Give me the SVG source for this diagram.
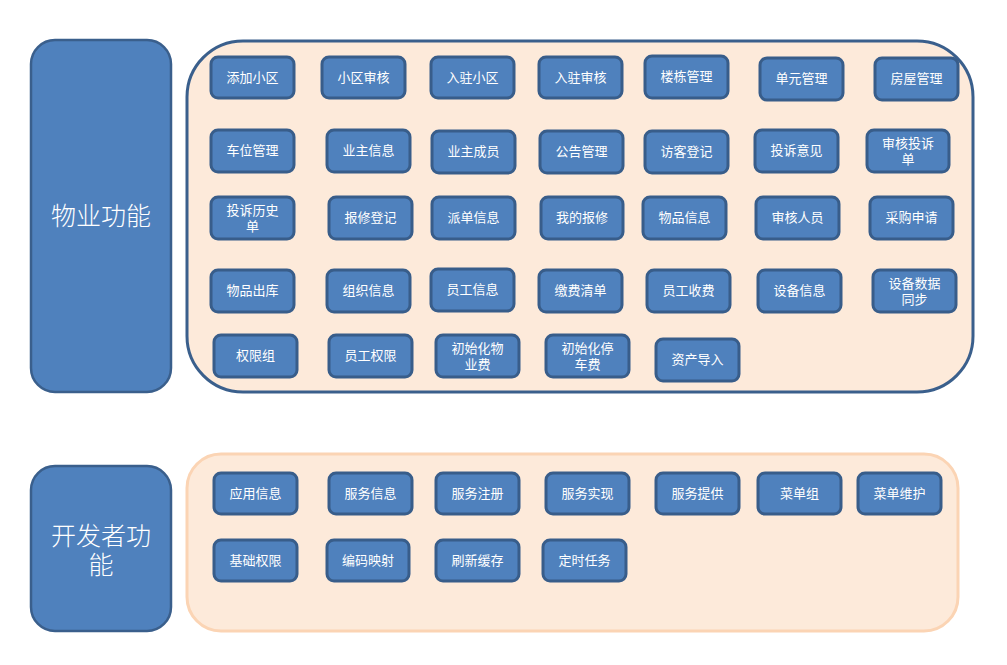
<svg xmlns="http://www.w3.org/2000/svg" width="1007" height="665" viewBox="0 0 1007 665">
<style>
.bg{fill:#ffffff}
.cont1{fill:#FDEADA;stroke:#3A5F8C;stroke-width:3}
.cont2{fill:#FDEADA;stroke:#FBD4B4;stroke-width:3}
.side{fill:#4F81BD;stroke:#3A5F8C;stroke-width:2.5}
.n rect{fill:#4F81BD;stroke:#385D8A;stroke-width:3}
.n text{fill:#ffffff;font-family:"Noto Sans CJK SC","Noto Sans",sans-serif;font-size:13px;text-anchor:middle;dominant-baseline:central}
.big{fill:#ffffff;font-family:"Noto Sans CJK SC","Noto Sans",sans-serif;font-weight:300;font-size:25px;text-anchor:middle;dominant-baseline:central}
</style>
<rect class="bg" x="0" y="0" width="1007" height="665"/>
<g id="group-property">
<rect class="side" x="31" y="40" width="140" height="352" rx="24"/>
<text class="big" x="101" y="214">物业功能</text>
</g>
<g id="container-property"><rect class="cont1" x="187" y="41" width="786" height="351" rx="56"/></g>
<g id="group-dev">
<rect class="side" x="31" y="466" width="140" height="165" rx="24"/>
<text class="big" x="101" y="534">开发者功</text>
<text class="big" x="101" y="563">能</text>
</g>
<g id="container-dev"><rect class="cont2" x="187" y="454" width="771" height="177" rx="34"/></g>
<g id="connectors"></g>

<g id="n1" class="n"><rect x="211" y="57" width="83" height="41" rx="7"/><text x="252.5" y="76.5">添加小区</text></g>
<g id="n2" class="n"><rect x="322" y="57" width="83" height="41" rx="7"/><text x="363.5" y="76.5">小区审核</text></g>
<g id="n3" class="n"><rect x="431" y="57" width="83" height="41" rx="7"/><text x="472.5" y="76.5">入驻小区</text></g>
<g id="n4" class="n"><rect x="539" y="57" width="83" height="41" rx="7"/><text x="580.5" y="76.5">入驻审核</text></g>
<g id="n5" class="n"><rect x="645" y="56" width="83" height="42" rx="7"/><text x="686.5" y="75.5">楼栋管理</text></g>
<g id="n6" class="n"><rect x="760" y="58" width="83" height="42" rx="7"/><text x="801.5" y="77.5">单元管理</text></g>
<g id="n7" class="n"><rect x="875" y="58" width="83" height="42" rx="7"/><text x="916.5" y="77.5">房屋管理</text></g>

<g id="n8" class="n"><rect x="211" y="130" width="83" height="42" rx="7"/><text x="252.5" y="149.5">车位管理</text></g>
<g id="n9" class="n"><rect x="327" y="130" width="83" height="42" rx="7"/><text x="368.5" y="149.5">业主信息</text></g>
<g id="n10" class="n"><rect x="432" y="131" width="83" height="42" rx="7"/><text x="473.5" y="150.5">业主成员</text></g>
<g id="n11" class="n"><rect x="540" y="131" width="83" height="42" rx="7"/><text x="581.5" y="150.5">公告管理</text></g>
<g id="n12" class="n"><rect x="645" y="131" width="83" height="42" rx="7"/><text x="686.5" y="150.5">访客登记</text></g>
<g id="n13" class="n"><rect x="755" y="130" width="83" height="42" rx="7"/><text x="796.5" y="149.5">投诉意见</text></g>
<g id="n14" class="n"><rect x="867" y="130" width="82" height="42" rx="7"/><text x="908" y="142.5">审核投诉</text><text x="908" y="158">单</text></g>

<g id="n15" class="n"><rect x="211" y="197" width="83" height="42" rx="7"/><text x="252.5" y="209.5">投诉历史</text><text x="252.5" y="225">单</text></g>
<g id="n16" class="n"><rect x="329" y="197" width="83" height="42" rx="7"/><text x="370.5" y="216.5">报修登记</text></g>
<g id="n17" class="n"><rect x="432" y="197" width="83" height="42" rx="7"/><text x="473.5" y="216.5">派单信息</text></g>
<g id="n18" class="n"><rect x="541" y="197" width="82" height="42" rx="7"/><text x="582" y="216.5">我的报修</text></g>
<g id="n19" class="n"><rect x="643" y="197" width="83" height="42" rx="7"/><text x="684.5" y="216.5">物品信息</text></g>
<g id="n20" class="n"><rect x="756" y="197" width="83" height="42" rx="7"/><text x="797.5" y="216.5">审核人员</text></g>
<g id="n21" class="n"><rect x="870" y="197" width="83" height="42" rx="7"/><text x="911.5" y="216.5">采购申请</text></g>

<g id="n22" class="n"><rect x="211" y="270" width="83" height="42" rx="7"/><text x="252.5" y="289.5">物品出库</text></g>
<g id="n23" class="n"><rect x="327" y="270" width="83" height="42" rx="7"/><text x="368.5" y="289.5">组织信息</text></g>
<g id="n24" class="n"><rect x="431" y="269" width="83" height="42" rx="7"/><text x="472.5" y="288.5">员工信息</text></g>
<g id="n25" class="n"><rect x="539" y="270" width="83" height="42" rx="7"/><text x="580.5" y="289.5">缴费清单</text></g>
<g id="n26" class="n"><rect x="647" y="270" width="83" height="42" rx="7"/><text x="688.5" y="289.5">员工收费</text></g>
<g id="n27" class="n"><rect x="758" y="270" width="83" height="42" rx="7"/><text x="799.5" y="289.5">设备信息</text></g>
<g id="n28" class="n"><rect x="873" y="270" width="83" height="42" rx="7"/><text x="914.5" y="282.5">设备数据</text><text x="914.5" y="298">同步</text></g>

<g id="n29" class="n"><rect x="214" y="335" width="83" height="42" rx="7"/><text x="255.5" y="354.5">权限组</text></g>
<g id="n30" class="n"><rect x="329" y="335" width="83" height="42" rx="7"/><text x="370.5" y="354.5">员工权限</text></g>
<g id="n31" class="n"><rect x="436" y="335" width="83" height="42" rx="7"/><text x="477.5" y="347.5">初始化物</text><text x="477.5" y="363">业费</text></g>
<g id="n32" class="n"><rect x="546" y="335" width="83" height="42" rx="7"/><text x="587.5" y="347.5">初始化停</text><text x="587.5" y="363">车费</text></g>
<g id="n33" class="n"><rect x="656" y="339" width="83" height="42" rx="7"/><text x="697.5" y="358.5">资产导入</text></g>

<g id="d1" class="n"><rect x="214" y="473" width="83" height="41" rx="7"/><text x="255.5" y="492.5">应用信息</text></g>
<g id="d2" class="n"><rect x="329" y="473" width="83" height="41" rx="7"/><text x="370.5" y="492.5">服务信息</text></g>
<g id="d3" class="n"><rect x="436" y="473" width="83" height="41" rx="7"/><text x="477.5" y="492.5">服务注册</text></g>
<g id="d4" class="n"><rect x="546" y="473" width="83" height="41" rx="7"/><text x="587.5" y="492.5">服务实现</text></g>
<g id="d5" class="n"><rect x="656" y="473" width="83" height="41" rx="7"/><text x="697.5" y="492.5">服务提供</text></g>
<g id="d6" class="n"><rect x="758" y="473" width="83" height="41" rx="7"/><text x="799.5" y="492.5">菜单组</text></g>
<g id="d7" class="n"><rect x="858" y="473" width="83" height="41" rx="7"/><text x="899.5" y="492.5">菜单维护</text></g>
<g id="d8" class="n"><rect x="214" y="540" width="83" height="41" rx="7"/><text x="255.5" y="559.5">基础权限</text></g>
<g id="d9" class="n"><rect x="327" y="540" width="82" height="41" rx="7"/><text x="368" y="559.5">编码映射</text></g>
<g id="d10" class="n"><rect x="436" y="540" width="83" height="41" rx="7"/><text x="477.5" y="559.5">刷新缓存</text></g>
<g id="d11" class="n"><rect x="543" y="540" width="83" height="41" rx="7"/><text x="584.5" y="559.5">定时任务</text></g>
</svg>
